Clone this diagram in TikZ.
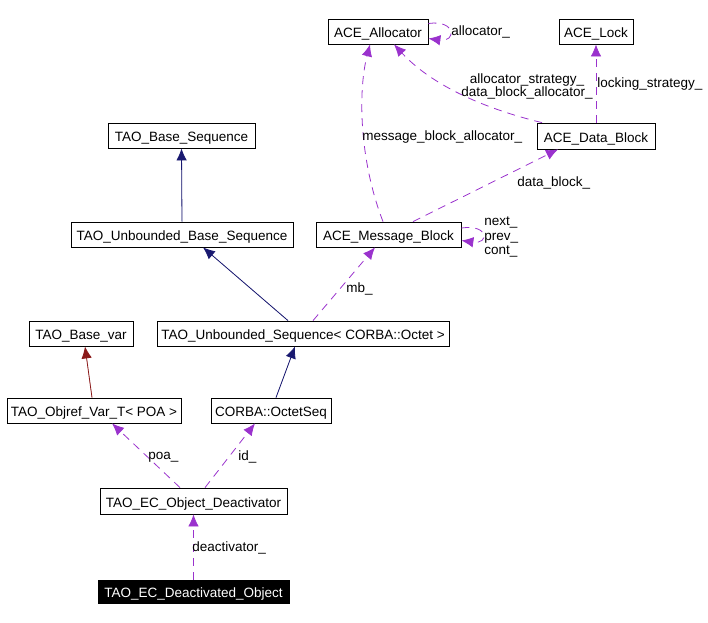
\documentclass[tikz,border=0pt]{standalone}
\usepackage{fontspec}
\setmainfont{Liberation Sans}
\usetikzlibrary{arrows.meta}
\definecolor{navy}{RGB}{25,25,112}
\definecolor{brick}{RGB}{139,26,26}
\definecolor{orchid}{RGB}{154,50,205}

\begin{document}
\begin{tikzpicture}[x=1pt, y=-1pt, line width=0.8pt,
    font=\fontsize{13.5}{14.5}\selectfont,
    cls/.style={draw=black, fill=white, minimum height=25pt, inner sep=2pt, text height=12.5pt, text depth=0pt},
    inh/.style={draw=#1, fill=#1, -{Latex[length=12pt,width=10.5pt]}},
    use/.style={draw=orchid, dash pattern=on 8pt off 6pt, -{Latex[length=12pt,width=10.5pt]}},
    lbl/.style={anchor=west, inner sep=0pt}]
  \useasboundingbox (0,0) rectangle (708,622);
  \node[cls, minimum width=100pt] (alloc) at (378, 31.5) {ACE\_Allocator};
  \node[cls, minimum width=74pt] (lock) at (596, 31.5) {ACE\_Lock};
  \node[cls, minimum width=118pt, minimum height=26pt] (dblock) at (596, 136) {ACE\_Data\_Block};
  \node[cls, minimum width=145pt] (mblock) at (388.5, 234.5) {ACE\_Message\_Block};
  \node[cls, minimum width=147pt] (bseq) at (181.5, 135.5) {TAO\_Base\_Sequence};
  \node[cls, minimum width=222pt] (ubseq) at (182, 234.5) {TAO\_Unbounded\_Base\_Sequence};
  \node[cls, minimum width=292pt] (useq) at (303, 333.5) {TAO\_Unbounded\_Sequence< CORBA::Octet >};
  \node[cls, minimum width=104pt] (bvar) at (81, 333.5) {TAO\_Base\_var};
  \node[cls, minimum width=174pt] (objref) at (94, 410.5) {TAO\_Objref\_Var\_T< POA >};
  \node[cls, minimum width=120pt] (octseq) at (271, 410.5) {CORBA::OctetSeq};
  \node[cls, minimum width=187pt, minimum height=26pt] (deact) at (193.5, 501) {TAO\_EC\_Object\_Deactivator};
  \node[cls, fill=black, text=white, minimum width=191pt, minimum height=23pt] (obj) at (193.5, 591.5) {TAO\_EC\_Deactivated\_Object};

  \draw[inh=navy] (ubseq.north) -- (bseq.south);
  \draw[inh=navy] ([xshift=-15pt]useq.north) -- ([xshift=21pt]ubseq.south);
  \draw[inh=navy] ([xshift=5pt]octseq.north) -- ([xshift=-8pt]useq.south);
  \draw[inh=brick] ([xshift=-2pt]objref.north) -- ([xshift=4pt]bvar.south);
  \draw[use] (obj.north) -- (deact.south);
  \draw[use] ([xshift=-13.5pt]deact.north) -- ([xshift=18pt]objref.south);
  \draw[use] ([xshift=11.5pt]deact.north) -- ([xshift=-16pt]octseq.south);
  \draw[use] ([xshift=10pt]useq.north) -- ([xshift=-13.5pt]mblock.south);
  \draw[use] ([xshift=24.5pt]mblock.north) -- ([xshift=-38pt]dblock.south);
  \draw[use] ([xshift=-5.5pt]mblock.north) .. controls +(-24,-62) and +(-12,46) .. ([xshift=-8pt]alloc.south);
  \draw[use] ([xshift=-54pt]dblock.north) .. controls +(-62,-15) and +(36,39) .. ([xshift=16pt]alloc.south);
  \draw[use] (dblock.north) -- (lock.south);
  \draw[use] ([yshift=8pt]alloc.east) .. controls +(28,-4) and +(28,4) .. ([yshift=-7pt]alloc.east);
  \draw[use] ([yshift=6.5pt]mblock.east) .. controls +(28,-4) and +(28,4) .. ([yshift=-6pt]mblock.east);

  \node[lbl] (lalloc) at (451, 32) {allocator\_};
  \node[align=center, inner sep=0pt] (lstrat) at (527, 86) {allocator\_strategy\_\\[-1.5pt]data\_block\_allocator\_};
  \node[lbl] (llock) at (597, 84) {locking\_strategy\_};
  \node[lbl] (lmballoc) at (362, 137) {message\_block\_allocator\_};
  \node[lbl] (ldblock) at (517, 183) {data\_block\_};
  \node[lbl, align=left] (lnext) at (484, 237) {next\_\\prev\_\\cont\_};
  \node[lbl] (lmb) at (346, 289) {mb\_};
  \node[lbl] (lpoa) at (148, 457) {poa\_};
  \node[lbl] (lid) at (238, 457) {id\_};
  \node[lbl] (ldeact) at (192, 548) {deactivator\_};
\end{tikzpicture}
\end{document}
